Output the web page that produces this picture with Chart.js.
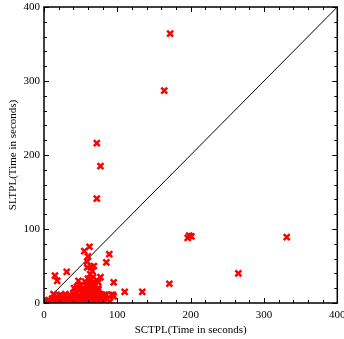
<!DOCTYPE html>
<html>
<head>
<meta charset="utf-8">
<script src="https://cdn.jsdelivr.net/npm/chart.js@4/dist/chart.umd.min.js"></script>
<style>
  html, body { margin: 0; padding: 0; background: #fff; }
  #wrap { width: 344px; height: 339px; }
</style>
</head>
<body>
<div id="wrap"><canvas id="myChart"></canvas></div>
<script>
// valeurs (secondes)
const sctpl = [172, 164, 72, 77, 72, 196, 198, 201, 331, 265, 171, 134,
  55, 62, 60, 89, 59, 85, 59, 64, 68, 15, 18, 31, 47, 56, 67, 77, 74, 95, 110,
  63, 59, 63, 41, 54, 74, 13, 23, 40, 78, 83, 85, 94, 95, 78, 73, 77, 78,
  1, 3, 5, 6, 8, 10, 11, 12, 14, 16, 17, 18, 20, 21, 22, 24, 25, 26, 28, 29,
  30, 31, 33, 34, 35, 37, 38, 39, 42, 43, 44, 45, 47, 48, 49, 50, 51, 52, 53,
  55, 56, 57, 58, 58, 60, 60, 61, 62, 62, 63, 64, 65, 65, 66, 67, 68, 68, 69,
  70, 70, 71, 72, 72, 74, 75, 76, 80, 82, 86, 90, 63, 60, 66, 50, 45, 82, 92];
const sltpl = [364, 287, 216, 185, 141, 88, 91, 90, 89, 40, 26, 15,
  70, 76, 63, 66, 56, 55, 48, 49, 50, 37, 30, 42, 30, 29, 35, 35, 28, 28, 15,
  27, 22, 20, 20, 18, 18, 12, 11, 13, 11, 11, 11, 11, 9, 9, 5, 4, 2,
  1, 2, 1, 4, 3, 2, 6, 1, 3, 5, 1, 8, 3, 10, 1, 4, 7, 2, 5, 12,
  1, 8, 3, 6, 11, 2, 9, 4, 7, 2, 14, 5, 10, 1, 17, 4, 8, 13, 2,
  6, 10, 15, 3, 25, 7, 18, 12, 30, 4, 9, 16, 22, 2, 11, 6, 28, 14, 19,
  3, 24, 9, 31, 15, 20, 7, 12, 6, 3, 5, 2, 39, 33, 43, 24, 22, 11, 11];
const axisMax = 400;
const majorStep = 100;
const minorStep = 20;

const points = sctpl.map((x, i) => ({ x: x, y: sltpl[i] }));

// cadre + graduations vers l'intérieur sur les 4 côtés
const framePlugin = {
  id: 'frame',
  afterDatasetsDraw(chart) {
    const { ctx, chartArea: a, scales } = chart;
    ctx.save();
    ctx.strokeStyle = '#000';
    ctx.lineWidth = 1;
    for (let v = 0; v <= axisMax; v += minorStep) {
      const len = v % majorStep === 0 ? 5 : 3;
      const px = Math.round(scales.x.getPixelForValue(v)) + 0.5;
      const py = Math.round(scales.y.getPixelForValue(v)) + 0.5;
      ctx.beginPath();
      ctx.moveTo(px, a.bottom); ctx.lineTo(px, a.bottom - len);
      ctx.moveTo(px, a.top); ctx.lineTo(px, a.top + len);
      ctx.moveTo(a.left, py); ctx.lineTo(a.left + len, py);
      ctx.moveTo(a.right, py); ctx.lineTo(a.right - len, py);
      ctx.stroke();
    }
    ctx.lineWidth = 1.5;
    ctx.strokeRect(a.left, a.top, a.right - a.left, a.bottom - a.top);
    ctx.restore();
  }
};

const font = { family: '"Liberation Serif", "Times New Roman", serif', size: 11 };

new Chart(document.getElementById('myChart').getContext('2d'), {
  type: 'scatter',
  data: {
    datasets: [{
      label: 'points',
      data: points,
      pointStyle: 'crossRot',
      pointRadius: 4.2,
      pointBorderWidth: 2.5,
      borderColor: '#ff0000',
      backgroundColor: '#ff0000'
    }, {
      type: 'line',
      label: 'diag',
      data: [{ x: 0, y: 0 }, { x: axisMax, y: axisMax }],
      borderColor: '#000',
      borderWidth: 1,
      pointRadius: 0,
      fill: false
    }]
  },
  options: {
    responsive: true,
    maintainAspectRatio: false,
    animation: false,
    layout: { padding: { top: 7, right: 4, left: 0, bottom: 0 } },
    plugins: { legend: { display: false }, tooltip: { enabled: false } },
    scales: {
      x: {
        type: 'linear',
        min: 0, max: axisMax,
        grid: { display: false, drawTicks: false },
        border: { display: false },
        ticks: { stepSize: majorStep, font: font, color: '#000', padding: 6, maxRotation: 0 },
        title: { display: true, text: 'SCTPL(Time in seconds)', font: font, color: '#000', padding: { top: 0, bottom: 2 } },
        afterFit(scale) { scale.height = 36; scale.paddingLeft = 0; scale.paddingRight = 0; }
      },
      y: {
        type: 'linear',
        min: 0, max: axisMax,
        grid: { display: false, drawTicks: false },
        border: { display: false },
        ticks: { stepSize: majorStep, font: font, color: '#000', padding: 4 },
        title: { display: true, text: 'SLTPL(Time in seconds)', font: font, color: '#000', padding: { top: 7, bottom: 0 } },
        afterFit(scale) { scale.width = 44; scale.paddingTop = 0; scale.paddingBottom = 0; }
      }
    }
  },
  plugins: [framePlugin]
});
</script>
</body>
</html>
